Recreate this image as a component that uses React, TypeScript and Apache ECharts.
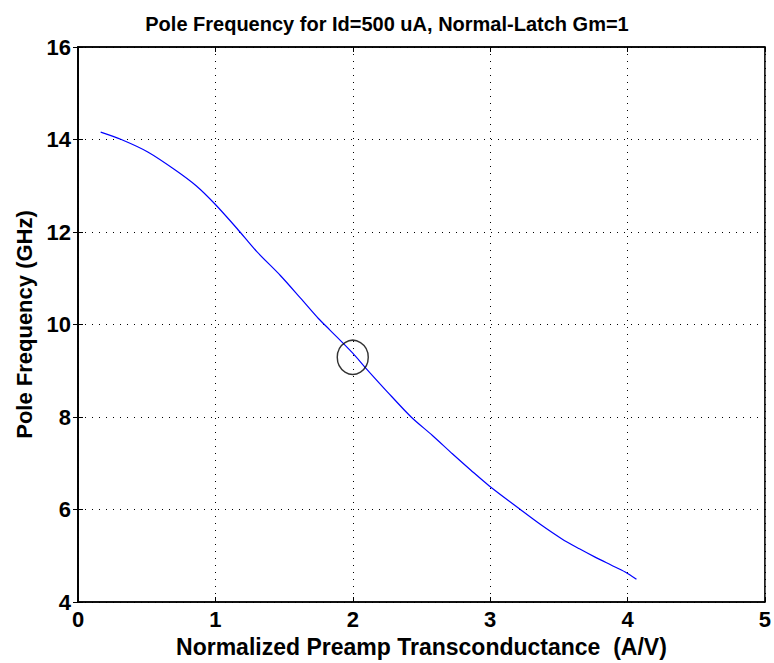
import React, { useEffect, useRef } from "react";
import * as echarts from "echarts";

const titleText = "Pole Frequency for Id=500 uA, Normal-Latch Gm=1";
const xAxisName = "Normalized Preamp Transconductance  (A/V)";
const yAxisName = "Pole Frequency (GHz)";

const gmValues = [0.165, 0.315, 0.508, 0.713, 0.86, 0.995, 1.159, 1.3, 1.473, 1.62, 1.75, 1.834, 2.0, 2.088, 2.25, 2.425, 2.58, 2.727, 2.86, 2.994, 3.22, 3.37, 3.52, 3.65, 3.764, 3.88, 3.983, 4.065];
const poleValues = [14.16, 14.0, 13.73, 13.33, 13.0, 12.61, 12.07, 11.58, 11.06, 10.57, 10.13, 9.88, 9.38, 9.08, 8.55, 8.0, 7.6, 7.2, 6.85, 6.51, 6.0, 5.67, 5.37, 5.15, 4.97, 4.8, 4.65, 4.49];

const markerX = [2.0];
const markerY = [9.29];

const xMin = 0, xMax = 5, xStep = 1;
const yMin = 4, yMax = 16, yStep = 2;

export default function App() {
  const ref = useRef<HTMLDivElement>(null);
  useEffect(() => {
    if (!ref.current) return;
    const chart = echarts.init(ref.current, null, { renderer: "svg" });
    const font = "'Liberation Sans', Arial, sans-serif";
    const tickStyle = { show: true, inside: true, length: 5, lineStyle: { color: "#000", width: 1 } };
    chart.setOption({
      animation: false,
      backgroundColor: "#fff",
      title: {
        text: titleText,
        left: "center",
        top: 9,
        textStyle: { fontFamily: font, fontSize: 20, fontWeight: "bold", color: "#000" },
      },
      grid: { left: 78, right: 7, top: 47, bottom: 61, show: true, borderColor: "#000", borderWidth: 1.5, backgroundColor: "#fff" },
      xAxis: [
        {
          type: "value", min: xMin, max: xMax, interval: xStep, position: "bottom",
          name: xAxisName, nameLocation: "middle", nameGap: 33,
          nameTextStyle: { fontFamily: font, fontSize: 23, fontWeight: "bold", color: "#000" },
          axisLine: { show: true, lineStyle: { color: "#000", width: 1.5 } },
          axisTick: tickStyle,
          axisLabel: { fontFamily: font, fontSize: 22, fontWeight: "bold", color: "#000", margin: 6 },
          splitLine: { show: true, lineStyle: { color: "#000", type: [1, 6], width: 1 } },
        },
        {
          type: "value", min: xMin, max: xMax, interval: xStep, position: "top",
          axisLine: { show: true, lineStyle: { color: "#000", width: 1.5 } },
          axisTick: tickStyle, axisLabel: { show: false }, splitLine: { show: false },
        },
      ],
      yAxis: [
        {
          type: "value", min: yMin, max: yMax, interval: yStep, position: "left",
          name: yAxisName, nameLocation: "middle", nameGap: 42,
          nameTextStyle: { fontFamily: font, fontSize: 22, fontWeight: "bold", color: "#000" },
          axisLine: { show: true, lineStyle: { color: "#000", width: 1.5 } },
          axisTick: tickStyle,
          axisLabel: { fontFamily: font, fontSize: 22, fontWeight: "bold", color: "#000", margin: 7 },
          splitLine: { show: true, lineStyle: { color: "#000", type: [1, 6], width: 1 } },
        },
        {
          type: "value", min: yMin, max: yMax, interval: yStep, position: "right",
          axisLine: { show: true, lineStyle: { color: "#000", width: 1.5 } },
          axisTick: tickStyle, axisLabel: { show: false }, splitLine: { show: false },
        },
      ],
      series: [
        {
          type: "line",
          data: gmValues.map((x, i) => [x, poleValues[i]]),
          showSymbol: false,
          smooth: 0.3,
          lineStyle: { color: "#0000ff", width: 1.2 },
          xAxisIndex: 0, yAxisIndex: 0,
        },
        {
          type: "scatter",
          data: markerX.map((x, i) => [x, markerY[i]]),
          symbol: "circle",
          symbolSize: [31, 34],
          itemStyle: { color: "rgba(0,0,0,0)", borderColor: "#000", borderWidth: 1.5 },
          xAxisIndex: 0, yAxisIndex: 0,
          z: 5,
        },
      ],
    });
    return () => chart.dispose();
  }, []);
  return <div ref={ref} style={{ position: "fixed", left: 0, top: 0, width: 774, height: 663 }} />;
}
